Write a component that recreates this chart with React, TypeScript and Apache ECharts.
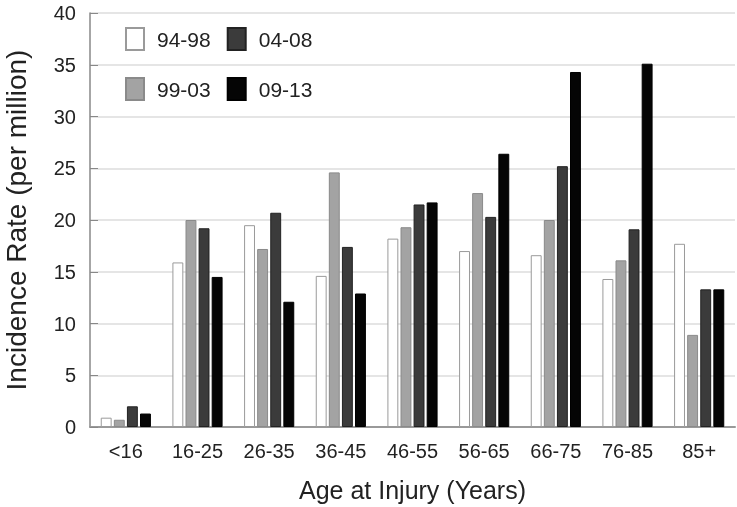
import React, { useEffect, useRef } from "react";
import * as echarts from "echarts";

const categories = ["<16", "16-25", "26-35", "36-45", "46-55", "56-65", "66-75", "76-85", "85+"];
const s9498 = [0.9, 15.9, 19.5, 14.6, 18.2, 17.0, 16.6, 14.3, 17.7];
const s9903 = [0.7, 20.0, 17.2, 24.6, 19.3, 22.6, 20.0, 16.1, 8.9];
const s0408 = [2.0, 19.2, 20.7, 17.4, 21.5, 20.3, 25.2, 19.1, 13.3];
const s0913 = [1.3, 14.5, 12.1, 12.9, 21.7, 26.4, 34.3, 35.1, 13.3];
const yTicks = [0, 5, 10, 15, 20, 25, 30, 35, 40];

const FONT = "Liberation Sans, Arial, sans-serif";

export default function App() {
  const ref = useRef<HTMLDivElement>(null);
  useEffect(() => {
    if (!ref.current) return;
    const chart = echarts.init(ref.current, undefined, { renderer: "svg" });
    const mk = (name: string, data: number[], color: string, border: string) => ({
      name,
      type: "bar",
      data,
      barGap: "20%",
      barCategoryGap: "30%",
      itemStyle: { color, borderColor: border, borderWidth: 1 },
    });
    const legendText = { fontSize: 21, color: "#222", fontFamily: FONT, padding: [0, 0, 0, 8] };
    chart.setOption({
      animation: false,
      textStyle: { fontFamily: FONT },
      grid: { left: 90, right: 2, top: 13, bottom: 80, outerBoundsMode: "none", containLabel: false },
      legend: [
        {
          data: ["94-98", "04-08"],
          left: 120,
          top: 22,
          icon: "rect",
          itemWidth: 18,
          itemHeight: 22,
          itemGap: 16,
          textStyle: legendText,
        },
        {
          data: ["99-03", "09-13"],
          left: 120,
          top: 72,
          icon: "rect",
          itemWidth: 18,
          itemHeight: 22,
          itemGap: 16,
          textStyle: legendText,
        },
      ],
      xAxis: {
        type: "category",
        data: categories,
        name: "Age at Injury (Years)",
        nameLocation: "middle",
        nameGap: 50,
        nameTextStyle: { fontSize: 25, color: "#222", fontFamily: FONT },
        axisLine: { lineStyle: { color: "#999", width: 2 } },
        axisTick: { show: false },
        axisLabel: { fontSize: 20, color: "#222", margin: 14, fontFamily: FONT },
      },
      yAxis: {
        type: "value",
        min: yTicks[0],
        max: yTicks[yTicks.length - 1],
        interval: 5,
        name: "Incidence Rate (per million)",
        nameLocation: "middle",
        nameGap: 60,
        nameTextStyle: { fontSize: 28, color: "#222", fontFamily: FONT },
        axisLine: { show: true, lineStyle: { color: "#888", width: 1.5 } },
        axisTick: { show: true, inside: true, length: 8, lineStyle: { color: "#888" } },
        axisLabel: { fontSize: 20, color: "#222", margin: 14, fontFamily: FONT },
        splitLine: { lineStyle: { color: "#dcdcdc", width: 1.5 } },
      },
      series: [
        mk("94-98", s9498, "#ffffff", "#9a9a9a"),
        mk("99-03", s9903, "#a3a3a3", "#8a8a8a"),
        mk("04-08", s0408, "#3b3b3b", "#222222"),
        mk("09-13", s0913, "#050505", "#000000"),
      ],
    });
    return () => chart.dispose();
  }, []);
  return (
    <div
      ref={ref}
      style={{ position: "fixed", left: 0, top: 0, width: 737, height: 507 }}
    />
  );
}
